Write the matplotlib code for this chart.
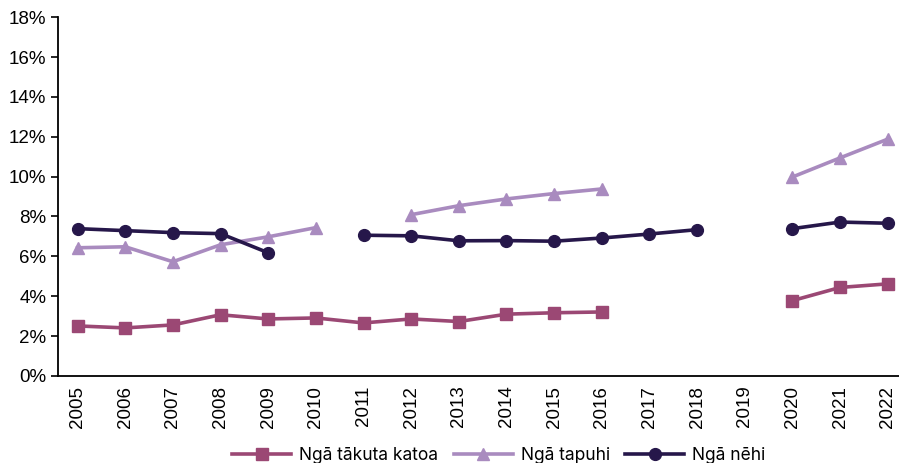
import numpy as np
import matplotlib.pyplot as plt
from matplotlib.ticker import PercentFormatter

years = [str(y) for y in range(2005, 2023)]
nan = np.nan

# percentages, gaps are years with no data
takuta = [2.51, 2.41, 2.56, 3.07, 2.86, 2.91, 2.66, 2.86, 2.73, 3.10, 3.17, 3.21,
          nan, nan, nan, 3.78, 4.44, 4.62]
tapuhi = [6.43, 6.48, 5.73, 6.58, 6.98, 7.44, nan, 8.09, 8.54, 8.88, 9.15, 9.38,
          nan, nan, nan, 9.98, 10.94, 11.88]
nehi = [7.39, 7.29, 7.19, 7.14, 6.18, nan, 7.06, 7.03, 6.78, 6.79, 6.76, 6.92,
        7.12, 7.34, nan, 7.39, 7.72, 7.66]

fig = plt.figure(figsize=(8.99, 4.63), dpi=100)
ax = fig.add_axes([0.064, 0.188, 0.95, 0.775])

x = np.arange(len(years))
ax.plot(x, takuta, color='#9b4874', marker='s', markersize=9, linewidth=2.6, label='Ngā tākuta katoa')
ax.plot(x, tapuhi, color='#a98bbf', marker='^', markersize=9, linewidth=2.6, label='Ngā tapuhi')
ax.plot(x, nehi, color='#26174a', marker='o', markersize=8.5, linewidth=2.6, label='Ngā nēhi')

ax.set_ylim(0, 18)
ax.set_yticks(np.arange(0, 19, 2))
ax.yaxis.set_major_formatter(PercentFormatter(decimals=0))
ax.set_xlim(-0.42, 17.5)
ax.set_xticks(x)
ax.set_xticklabels(years, rotation=90, family='Liberation Sans', fontsize=13.5)
for lab in ax.get_yticklabels():
    lab.set_family('Liberation Sans')
    lab.set_fontsize(13.5)
ax.tick_params(axis='x', length=0, pad=7)
ax.tick_params(axis='y', length=5, width=1.2, pad=3)
ax.spines[['top', 'right']].set_visible(False)
ax.spines[['left', 'bottom']].set_linewidth(1.3)

fig.legend(loc='lower center', bbox_to_anchor=(0.555, -0.035), ncol=3, frameon=False,
           handlelength=3.4, columnspacing=0.9, handletextpad=0.45,
           prop={'family': 'Inter', 'size': 12.5})

plt.savefig('out.png', dpi=100)
